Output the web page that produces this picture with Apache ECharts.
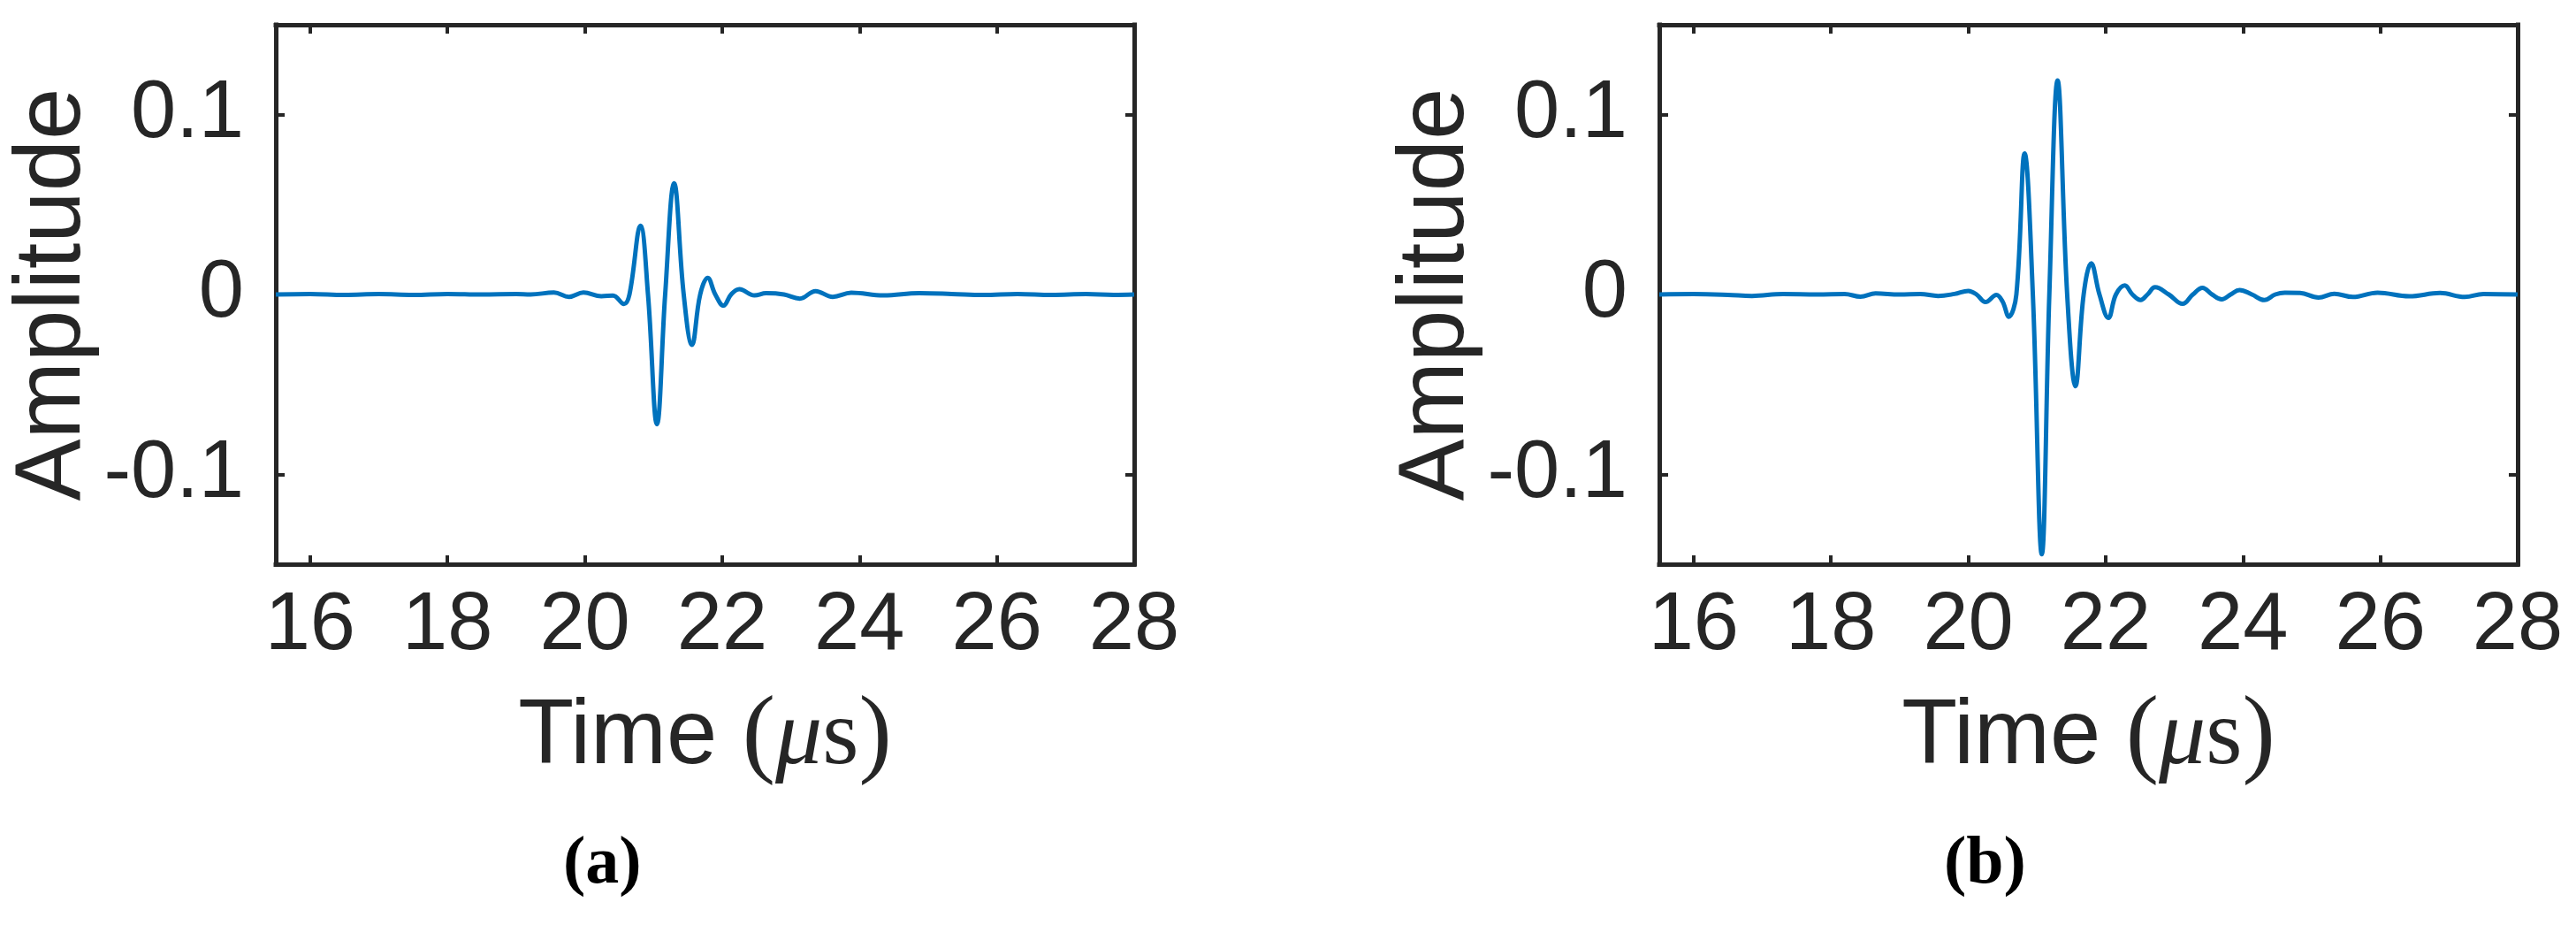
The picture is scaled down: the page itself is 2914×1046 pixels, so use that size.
<!DOCTYPE html>
<html>
<head>
<meta charset="utf-8">
<script src="https://cdn.jsdelivr.net/npm/echarts@6/dist/echarts.min.js"></script>
<style>
  html, body { margin: 0; padding: 0; background: #fff; }
  #main { width: 2914px; height: 1046px; }
</style>
</head>
<body>
<div id="main"></div>
<script>
// tick values shared by both panels
const xTicks = [16, 18, 20, 22, 24, 26, 28]
const yTicks = [-0.1, 0, 0.1]

// panel (a): time in microseconds and amplitude
const timeA = [15.5, 16.0, 16.5, 17.0, 17.5, 18.0, 18.5, 19.0, 19.21, 19.55, 19.77, 19.98, 20.24, 20.41, 20.57,
  20.65, 20.81, 20.92, 21.05, 21.17, 21.30, 21.44, 21.56, 21.68, 21.79, 21.90, 22.02, 22.13, 22.25, 22.47,
  22.64, 22.90, 23.13, 23.36, 23.61, 23.88, 24.35, 24.87, 25.34, 25.80, 26.30, 26.80, 27.30, 27.70, 28.0]
const ampA = [0, 0.0003, -0.0002, 0.0002, -0.0002, 0.0003, 0, 0.0002, 0, 0.0011, -0.0013, 0.0011, -0.0010, -0.0006, -0.0053,
  0, 0.0382, 0, -0.0722, 0, 0.0618, 0, -0.0280, 0, 0.0092, 0, -0.0062, 0, 0.0029, -0.0005,
  0.0007, 0, -0.0023, 0.0019, -0.0013, 0.0010, -0.0005, 0.0007, 0.0003, -0.0003, 0.0003, -0.0002, 0.0002, -0.0002, 0]

// panel (b)
const timeB = [15.5, 16.0, 16.5, 16.85, 17.3, 17.8, 18.2, 18.43, 18.65, 19.0, 19.3, 19.56, 19.8, 20.0, 20.12,
  20.25, 20.41, 20.50, 20.59, 20.70, 20.82, 20.94, 21.07, 21.18, 21.30, 21.44, 21.56, 21.68, 21.79, 21.91,
  22.04, 22.15, 22.28, 22.39, 22.51, 22.61, 22.72, 22.92, 23.12, 23.27, 23.41, 23.55, 23.69, 23.82, 23.95,
  24.13, 24.31, 24.47, 24.61, 24.83, 25.10, 25.33, 25.60, 25.96, 26.42, 26.87, 27.23, 27.50, 28.0]
const ampB = [0, 0.0002, -0.0002, -0.0008, 0.0002, 0, 0.0002, -0.0012, 0.0006, 0, 0.0003, -0.0008, 0.0003, 0.0020, 0,
  -0.0042, -0.0002, -0.0040, -0.0124, 0, 0.0785, 0, -0.1445, 0, 0.1190, 0, -0.0510, 0, 0.0173, 0,
  -0.0130, 0, 0.0050, 0, -0.0031, 0, 0.0040, 0, -0.0052, 0, 0.0037, 0, -0.0027, 0, 0.0025,
  0, -0.0031, 0, 0.0010, 0.0009, -0.0017, 0.0004, -0.0014, 0.0010, -0.0010, 0.0008, -0.0014, 0.0003, 0]

const axisColor = '#262626'
const sans = '"Liberation Sans", Arial, Helvetica, sans-serif'
const serif = '"Liberation Serif", "Times New Roman", serif'

const gridLefts = [312, 1877]

const lineStyle = { color: axisColor, width: 5, cap: 'square' }
const tickStyle = { color: axisColor, width: 4 }

function xAxes (gi) {
  const base = {
    type: 'value',
    gridIndex: gi,
    min: 15.5,
    max: 28,
    splitLine: { show: false },
    axisLine: { show: true, onZero: false, lineStyle },
    axisTick: { show: true, inside: true, length: 10, lineStyle: tickStyle, customValues: xTicks }
  }
  return [
    {
      ...base,
      position: 'bottom',
      axisLabel: { show: true, customValues: xTicks, color: axisColor, fontFamily: sans, fontSize: 92, margin: 25 },
      name: '{t|Time }{p|(}{m|μ}{s|s}{p|)}',
      nameLocation: 'middle',
      nameGap: 141,
      nameTextStyle: {
        rich: {
          t: { fontFamily: sans, fontSize: 103, color: axisColor },
          p: { fontFamily: serif, fontSize: 112, color: axisColor },
          m: { fontFamily: serif, fontStyle: 'italic', fontSize: 106, color: axisColor },
          s: { fontFamily: serif, fontSize: 106, color: axisColor }
        }
      }
    },
    { ...base, position: 'top', axisLabel: { show: false } }
  ]
}

function yAxes (gi) {
  const base = {
    type: 'value',
    gridIndex: gi,
    min: -0.15,
    max: 0.15,
    splitLine: { show: false },
    axisLine: { show: true, onZero: false, lineStyle },
    axisTick: { show: true, inside: true, length: 10, lineStyle: tickStyle, customValues: yTicks }
  }
  return [
    {
      ...base,
      position: 'left',
      axisLabel: { show: true, customValues: yTicks, color: axisColor, fontFamily: sans, fontSize: 92, margin: 36 },
      name: 'Amplitude',
      nameLocation: 'middle',
      nameGap: 172,
      nameTextStyle: { fontFamily: sans, fontSize: 105, color: axisColor }
    },
    { ...base, position: 'right', axisLabel: { show: false } }
  ]
}

function pairs (ts, vs) {
  return ts.map((t, i) => [t, vs[i]])
}

const chart = echarts.init(document.getElementById('main'))

chart.setOption({
  backgroundColor: '#fff',
  animation: false,
  title: [
    { text: '{p|(}{b|a}{p|)}', left: 637, top: 940, padding: 0 },
    { text: '{p|(}{b|b}{p|)}', left: 2199, top: 940, padding: 0 }
  ].map(t => ({
    ...t,
    textStyle: {
      rich: {
        p: { fontFamily: serif, fontSize: 76, color: '#000' },
        b: { fontFamily: serif, fontWeight: 'bold', fontSize: 76, color: '#000' }
      }
    }
  })),
  grid: gridLefts.map(left => ({ left, top: 28, width: 971, height: 610, containLabel: false })),
  xAxis: [...xAxes(0), ...xAxes(1)],
  yAxis: [...yAxes(0), ...yAxes(1)],
  series: [
    {
      type: 'line',
      xAxisIndex: 0,
      yAxisIndex: 0,
      data: pairs(timeA, ampA),
      smooth: 0.4,
      showSymbol: false,
      lineStyle: { color: '#0072BD', width: 5 }
    },
    {
      type: 'line',
      xAxisIndex: 2,
      yAxisIndex: 2,
      data: pairs(timeB, ampB),
      smooth: 0.4,
      showSymbol: false,
      lineStyle: { color: '#0072BD', width: 5 }
    }
  ]
})
</script>
</body>
</html>
